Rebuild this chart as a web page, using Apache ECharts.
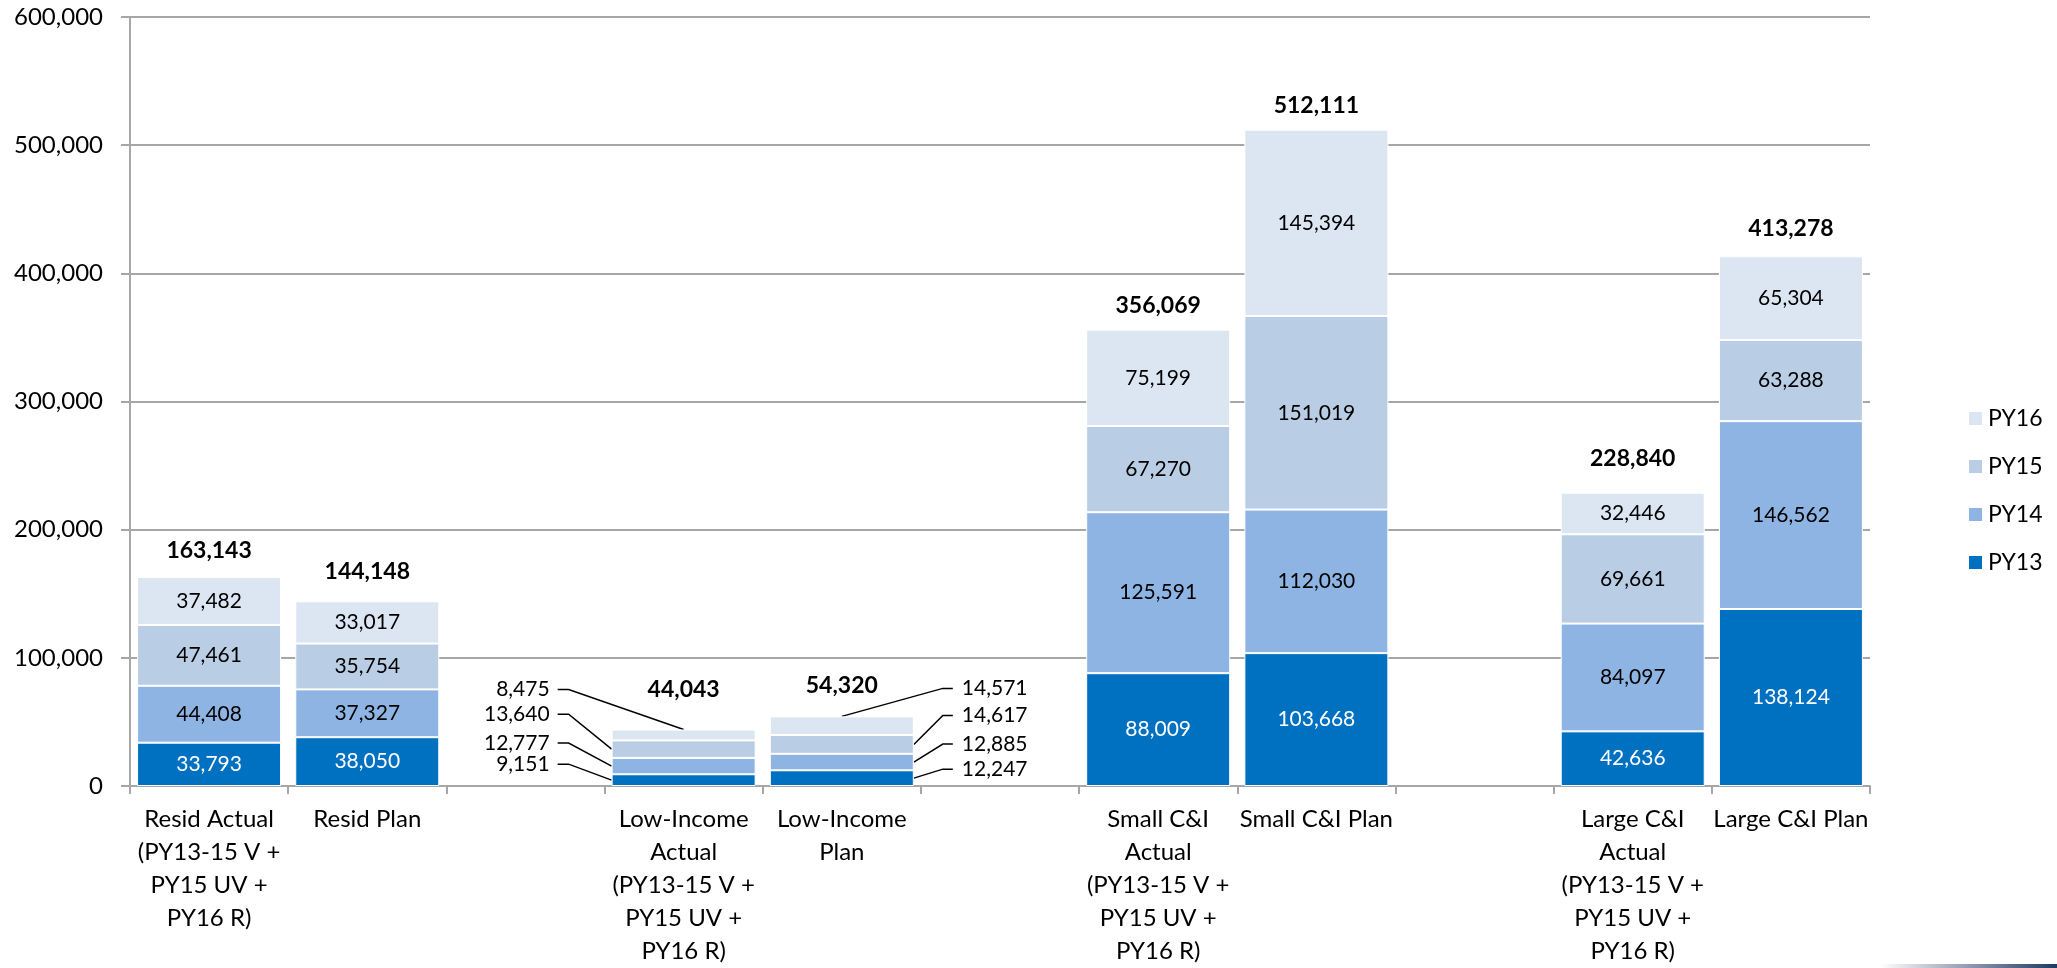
<!DOCTYPE html>
<html>
<head>
<meta charset="utf-8">
<script src="https://cdn.jsdelivr.net/npm/echarts@6/dist/echarts.min.js"></script>
<style>
  html, body { margin: 0; padding: 0; background: #fff; }
  #main { width: 2057px; height: 968px; }
</style>
</head>
<body>
<div id="main"></div>
<script>
// categories (empty ones are the gaps between groups)
const categories = [
  'Resid Actual\n(PY13-15 V +\nPY15 UV +\nPY16 R)',
  'Resid Plan',
  '',
  'Low-Income\nActual\n(PY13-15 V +\nPY15 UV +\nPY16 R)',
  'Low-Income\nPlan',
  ' ',
  'Small C&I\nActual\n(PY13-15 V +\nPY15 UV +\nPY16 R)',
  'Small C&I Plan',
  '  ',
  'Large C&I\nActual\n(PY13-15 V +\nPY15 UV +\nPY16 R)',
  'Large C&I Plan'
]

const py13 = [33793, 38050, null, 9151, 12247, null, 88009, 103668, null, 42636, 138124]
const py14 = [44408, 37327, null, 12777, 12885, null, 125591, 112030, null, 84097, 146562]
const py15 = [47461, 35754, null, 13640, 14617, null, 67270, 151019, null, 69661, 63288]
const py16 = [37482, 33017, null, 8475, 14571, null, 75199, 145394, null, 32446, 65304]
const totals = [163143, 144148, null, 44043, 54320, null, 356069, 512111, null, 228840, 413278]

const yTicks = [0, 100000, 200000, 300000, 400000, 500000, 600000]

// bars whose values are labelled outside with leader lines
const leaderLeft = 3
const leaderRight = 4

const FONT = 'Lato, Carlito, Calibri, sans-serif'
const colors = ['#0070C0', '#8EB4E3', '#B9CDE5', '#DCE6F2']
const BAR_W = 144
const fmt = (v) => Number(v).toLocaleString('en-US')

// extra lift for a few total labels (style only)
const totalLift = { 0: 2, 1: 6, 3: 16, 4: 7, 9: 10, 10: 4 }

const seriesDefs = [
  { name: 'PY13', data: py13, labelColor: '#fff' },
  { name: 'PY14', data: py14, labelColor: '#000' },
  { name: 'PY15', data: py15, labelColor: '#000' },
  { name: 'PY16', data: py16, labelColor: '#000' }
]

const barSeries = seriesDefs.map((s, k) => ({
  name: s.name,
  type: 'bar',
  stack: 'total',
  barWidth: BAR_W,
  itemStyle: { color: colors[k], borderColor: '#fff', borderWidth: 1 },
  label: {
    show: true,
    position: 'inside',
    color: s.labelColor,
    fontFamily: FONT,
    fontSize: 21,
    formatter: (p) => fmt(p.value)
  },
  data: s.data.map((v, i) =>
    i === leaderLeft || i === leaderRight ? { value: v, label: { show: false } } : v
  )
}))

const totalSeries = {
  name: 'Total',
  type: 'line',
  silent: true,
  symbol: 'circle',
  symbolSize: 1,
  itemStyle: { color: 'rgba(0,0,0,0)' },
  lineStyle: { opacity: 0 },
  label: {
    show: true,
    position: 'top',
    distance: 12,
    fontFamily: FONT,
    fontSize: 23,
    fontWeight: 'bold',
    color: '#000',
    formatter: (p) => fmt(p.value)
  },
  data: totals.map((v, i) =>
    totalLift[i] ? { value: v, label: { distance: 12 + totalLift[i] } } : v
  )
}

const option = {
  animation: false,
  backgroundColor: '#fff',
  grid: { left: 130, right: 187, top: 17, bottom: 179 },
  legend: {
    data: ['PY16', 'PY15', 'PY14', 'PY13'],
    orient: 'vertical',
    left: 1962,
    top: 402,
    itemWidth: 15,
    itemHeight: 15,
    itemGap: 25,
    icon: 'rect',
    textStyle: { fontFamily: FONT, fontSize: 23, color: '#000' }
  },
  xAxis: {
    type: 'category',
    data: categories,
    axisLine: { lineStyle: { color: '#A6A6A6', width: 2 } },
    axisTick: { show: true, length: 8, lineStyle: { color: '#A6A6A6', width: 2 } },
    axisLabel: {
      interval: 0,
      margin: 17,
      color: '#000',
      fontFamily: FONT,
      fontSize: 24,
      lineHeight: 33
    }
  },
  yAxis: {
    type: 'value',
    min: yTicks[0],
    max: yTicks[yTicks.length - 1],
    interval: yTicks[1] - yTicks[0],
    axisLine: { show: true, lineStyle: { color: '#A6A6A6', width: 2 } },
    axisTick: { show: true, length: 9, lineStyle: { color: '#A6A6A6', width: 2 } },
    splitLine: { lineStyle: { color: '#A6A6A6', width: 2 } },
    axisLabel: {
      margin: 27,
      color: '#000',
      fontFamily: FONT,
      fontSize: 24,
      formatter: (v) => fmt(v)
    }
  },
  series: [...barSeries, totalSeries]
}

const chart = echarts.init(document.getElementById('main'))
chart.setOption(option)

// leader lines + outside labels for the two small Low-Income bars
function buildLeaders() {
  const els = []
  const specs = [
    { cat: leaderLeft, side: -1, lifts: [16, 23, 35, 40], knee: 43, end: 54, text: 62 },
    { cat: leaderRight, side: 1, lifts: [9, 18, 29, 28], knee: 29, end: 39, text: 48 }
  ]
  specs.forEach((spec) => {
    let base = 0
    const cx = chart.convertToPixel({ gridIndex: 0 }, [spec.cat, 0])[0]
    const edgeX = cx + spec.side * BAR_W / 2
    seriesDefs.forEach((s, k) => {
      const v = s.data[spec.cat]
      const top = base + v
      let ax, ay
      if (k === seriesDefs.length - 1) {
        ax = cx
        ay = chart.convertToPixel({ gridIndex: 0 }, [spec.cat, top])[1]
      } else {
        ax = edgeX
        ay = chart.convertToPixel({ gridIndex: 0 }, [spec.cat, (base + top) / 2])[1]
      }
      base = top
      const ly = ay - spec.lifts[k]
      els.push({
        type: 'polyline',
        silent: true,
        shape: {
          points: [
            [ax, ay],
            [edgeX + spec.side * spec.knee, ly],
            [edgeX + spec.side * spec.end, ly]
          ]
        },
        style: { stroke: '#000', lineWidth: 1.5, fill: null }
      })
      els.push({
        type: 'text',
        silent: true,
        x: edgeX + spec.side * spec.text,
        y: ly,
        style: {
          text: fmt(v),
          fontFamily: FONT,
          fontSize: 21,
          fill: '#000',
          align: spec.side < 0 ? 'right' : 'left',
          verticalAlign: 'middle'
        }
      })
    })
  })
  // thin decorative stripe at the bottom right of the slide
  els.push({
    type: 'rect',
    silent: true,
    shape: { x: 1880, y: 964, width: 177, height: 4 },
    style: {
      fill: new echarts.graphic.LinearGradient(0, 0, 1, 0, [
        { offset: 0, color: 'rgba(31,56,100,0)' },
        { offset: 1, color: 'rgba(31,56,100,1)' }
      ])
    }
  })
  return els
}

chart.setOption({ graphic: { elements: buildLeaders() } })
</script>
</body>
</html>
